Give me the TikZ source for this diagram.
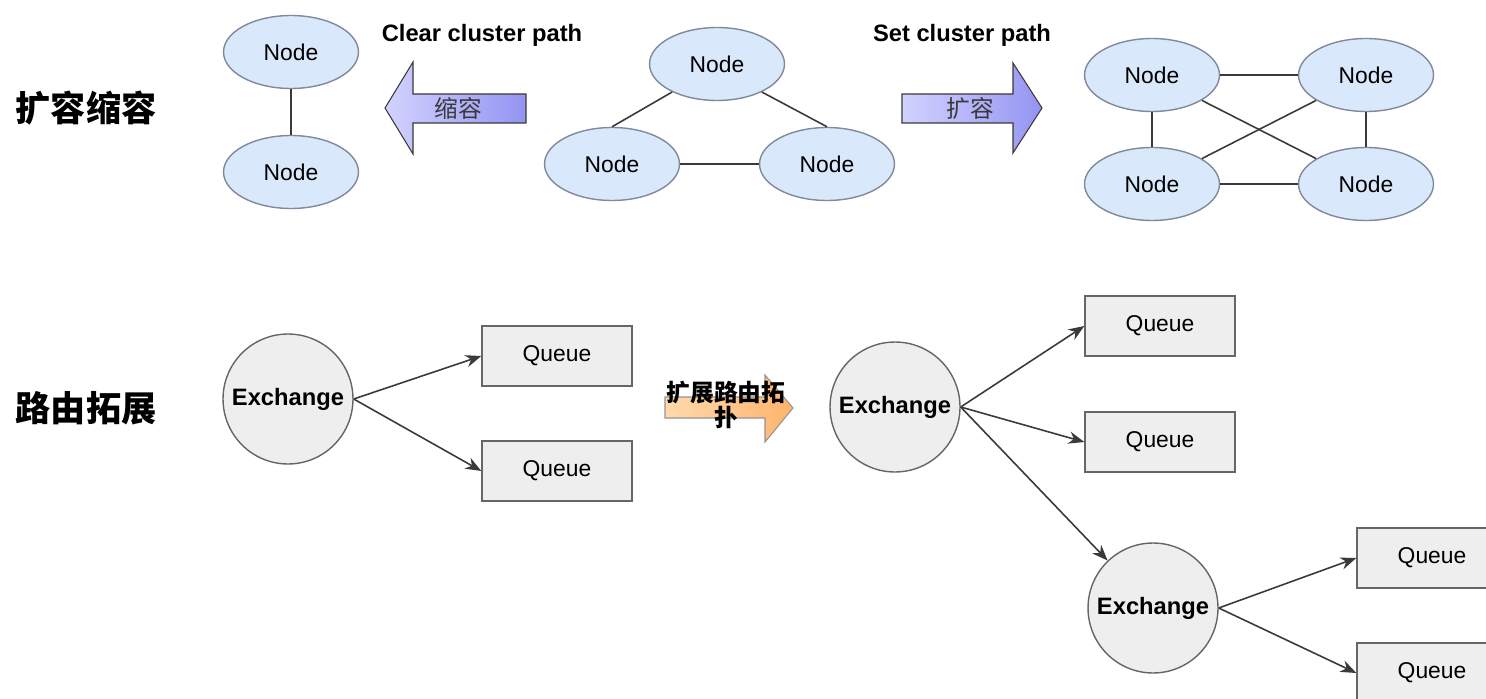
\documentclass[tikz,border=0pt]{standalone}
\usepackage{fontspec}
\setmainfont{Liberation Sans}
\newfontfamily\cjk{Noto Sans CJK SC}
\usetikzlibrary{arrows.meta, shapes.geometric}

\definecolor{peerfill}{HTML}{DAE8FC}
\definecolor{peerline}{HTML}{7F8A9C}
\definecolor{boxfill}{HTML}{EEEEEE}
\definecolor{boxline}{HTML}{666666}
\definecolor{linkcol}{HTML}{3A3A3A}
\definecolor{purplelight}{HTML}{D2D2FF}
\definecolor{purpledark}{HTML}{9494F2}
\definecolor{orangelight}{HTML}{FFD9AC}
\definecolor{orangedark}{HTML}{FFB46C}

\begin{document}
\begin{tikzpicture}[
    x=0.02cm, y=-0.02cm,
    peer/.style={ellipse, draw=peerline, fill=peerfill, line width=0.8pt, minimum width=2.7cm, minimum height=1.46cm, inner sep=0pt, font=\fontsize{13}{15}\selectfont},
    exch/.style={circle, draw=boxline, fill=boxfill, line width=0.8pt, minimum size=2.6cm, inner sep=0pt, font=\fontsize{13.5}{16}\selectfont\bfseries},
    queue/.style={rectangle, draw=boxline, fill=boxfill, line width=0.8pt, minimum width=3cm, minimum height=1.2cm, inner sep=0pt, font=\fontsize{13}{15}\selectfont},
    link/.style={draw=linkcol, line width=0.9pt},
    arrow/.style={link, -{Stealth[length=9pt,width=7pt]}},
    title/.style={font=\fontsize{13.5}{16}\selectfont\bfseries},
    side/.style={font=\cjk\bfseries\fontsize{20}{24}\selectfont}
]
\useasboundingbox (0,0) rectangle (1486,699);
\clip (0,0) rectangle (1486,699);
\fill[white] (0,0) rectangle (1486,699);

% Row labels
\node[side] (scale) at (86,108) {扩容缩容};
\node[side] (route) at (86,408) {路由拓展};

% Shrunk cluster
\node[peer] (sa) at (291,52) {Node};
\node[peer] (sb) at (291,172) {Node};
\draw[link] (sa) -- (sb);

% Shrink arrow
\path[draw=linkcol, line width=0.6pt, left color=purplelight, right color=purpledark]
    (385,108) -- (413,62) -- (413,94) -- (526,94) -- (526,123) -- (413,123) -- (413,154) -- cycle;
\node[font=\cjk\fontsize{13.5}{16}\selectfont, text=linkcol] (shrink) at (458,108) {缩容};
\node[title] (clear) at (482,35) {Clear cluster path};

% Current cluster
\node[peer] (top) at (717,64) {Node};
\node[peer] (left) at (612,164) {Node};
\node[peer] (right) at (827,164) {Node};
\draw[link] (top.212) -- (left.north);
\draw[link] (top.328) -- (right.north);
\draw[link] (left) -- (right);

% Grow arrow
\path[draw=linkcol, line width=0.6pt, left color=purplelight, right color=purpledark]
    (902,94) -- (1013,94) -- (1013,63) -- (1042,108) -- (1013,153) -- (1013,123) -- (902,123) -- cycle;
\node[font=\cjk\fontsize{13.5}{16}\selectfont, text=linkcol] (grow) at (970,108) {扩容};
\node[title] (set) at (962,35) {Set cluster path};

% Grown cluster
\node[peer] (ga) at (1152,75) {Node};
\node[peer] (gb) at (1366,75) {Node};
\node[peer] (gc) at (1152,184) {Node};
\node[peer] (gd) at (1366,184) {Node};
\draw[link] (ga) -- (gb);
\draw[link] (gc) -- (gd);
\draw[link] (ga) -- (gc);
\draw[link] (gb) -- (gd);
\draw[link] (ga) -- (gd);
\draw[link] (gc) -- (gb);

% Routing before
\node[exch] (ex1) at (288,399) {Exchange};
\node[queue] (q1) at (557,356) {Queue};
\node[queue] (q2) at (557,471) {Queue};
\draw[arrow] (ex1.east) -- (q1.west);
\draw[arrow] (ex1.east) -- (q2.west);

% Expand arrow
\path[draw=boxline!70, line width=0.6pt, left color=orangelight, right color=orangedark]
    (665,397) -- (765,397) -- (765,375) -- (793,408) -- (765,442) -- (765,418) -- (665,418) -- cycle;
\node[align=center, font=\cjk\bfseries\fontsize{13.5}{14.5}\selectfont] (expand) at (726,405) {扩展路由拓\\扑};

% Routing after
\node[exch] (ex2) at (895,407) {Exchange};
\node[queue] (q3) at (1160,326) {Queue};
\node[queue] (q4) at (1160,442) {Queue};
\node[exch] (ex3) at (1153,608) {Exchange};
\node[queue] (q5) at (1432,558) {Queue};
\node[queue] (q6) at (1432,673) {Queue};
\draw[arrow] (ex2.east) -- (q3.west);
\draw[arrow] (ex2.east) -- (q4.west);
\draw[arrow] (ex2.east) -- (ex3);
\draw[arrow] (ex3.east) -- (q5.west);
\draw[arrow] (ex3.east) -- (q6.west);
\end{tikzpicture}
\end{document}
